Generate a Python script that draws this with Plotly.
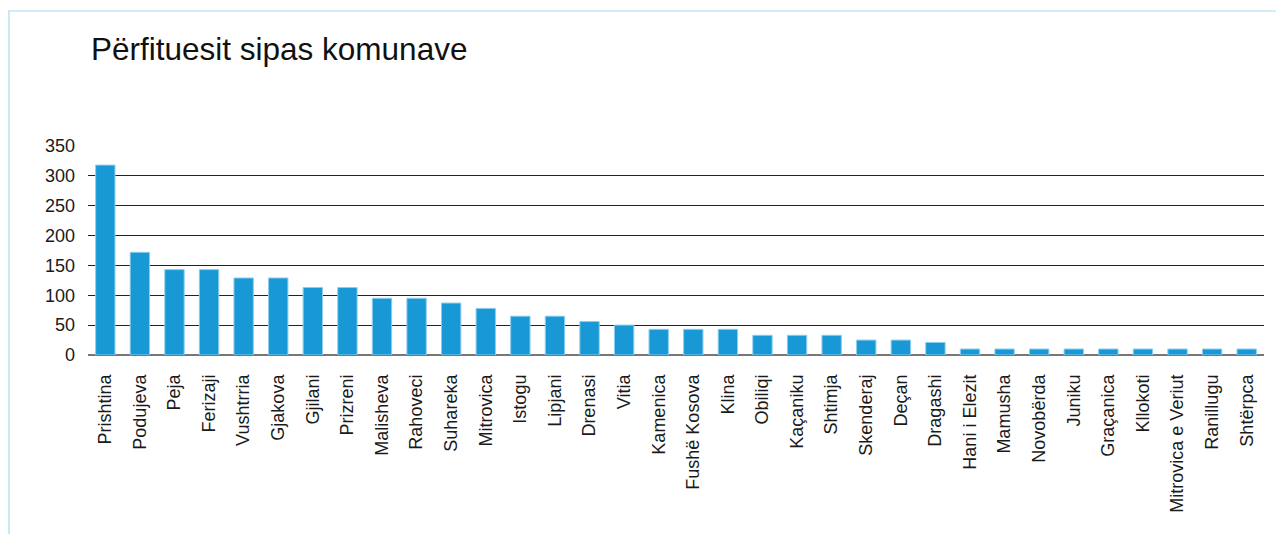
import plotly.graph_objects as go

komunat = ["Prishtina", "Podujeva", "Peja", "Ferizaji", "Vushtrria", "Gjakova", "Gjilani",
           "Prizreni", "Malisheva", "Rahoveci", "Suhareka", "Mitrovica", "Istogu", "Lipjani",
           "Drenasi", "Vitia", "Kamenica", "Fushë Kosova", "Klina", "Obiliqi", "Kaçaniku",
           "Shtimja", "Skenderaj", "Deçan", "Dragashi", "Hani i Elezit", "Mamusha",
           "Novobërda", "Juniku", "Graçanica", "Kllokoti", "Mitrovica e Veriut", "Ranillugu",
           "Shtërpca"]
perfituesit = [318, 172, 143, 143, 129, 129, 113, 113, 95, 95, 87, 78, 65, 65, 56, 50, 43, 43,
               43, 33, 33, 33, 25, 25, 21, 10, 10, 10, 10, 10, 10, 10, 10, 10]
y_ticks = [0, 50, 100, 150, 200, 250, 300, 350]

W, H = 1284, 534
OFF = 8  # page body margin
L, R, T, B = 80, 28, 138, 187
FONT = "Liberation Sans, Arial, Helvetica, sans-serif"

fig = go.Figure(go.Bar(
    x=komunat, y=perfituesit,
    marker=dict(color="#1899d6", line=dict(color="#8ccdee", width=1)),
    hoverinfo="x+y",
))

pw = W - L - R
ph = H - T - B
def px_x(p):
    return (p - OFF - L) / pw
def px_y(p):
    return (H - B - (p - OFF)) / ph

border = "#a9d9f2"
fig.add_shape(type="line", xref="paper", yref="paper",
              x0=px_x(8), x1=px_x(1300), y0=px_y(11), y1=px_y(11),
              line=dict(color=border, width=1.2))
fig.add_shape(type="line", xref="paper", yref="paper",
              x0=px_x(9), x1=px_x(9), y0=px_y(11), y1=px_y(560),
              line=dict(color=border, width=1.2))

fig.update_layout(
    width=W, height=H,
    margin=dict(l=L, r=R, t=T, b=B, autoexpand=False),
    paper_bgcolor="white", plot_bgcolor="white",
    font=dict(family=FONT, color="#1a1a1a", size=18),
    title=dict(text="Përfituesit sipas komunave", x=(91 - OFF) / W, xanchor="left",
               y=1 - (49 - OFF) / H, yanchor="middle", yref="container",
               font=dict(size=31.5, color="#111111", family=FONT)),
    bargap=0.44,
    showlegend=False,
    xaxis=dict(tickangle=-90, showgrid=False, showline=False, ticks="",
               ticklabelstandoff=15, tickfont=dict(size=18, color="#1a1a1a"),
               fixedrange=True),
    yaxis=dict(range=[0, 350], tickvals=y_ticks, showgrid=True, gridcolor="#222222",
               gridwidth=1, zeroline=True, zerolinecolor="#777777", zerolinewidth=1.5,
               showline=False, ticks="", ticklabelstandoff=12,
               tickfont=dict(size=18, color="#1a1a1a"), fixedrange=True),
)

fig.write_html("out.html")
